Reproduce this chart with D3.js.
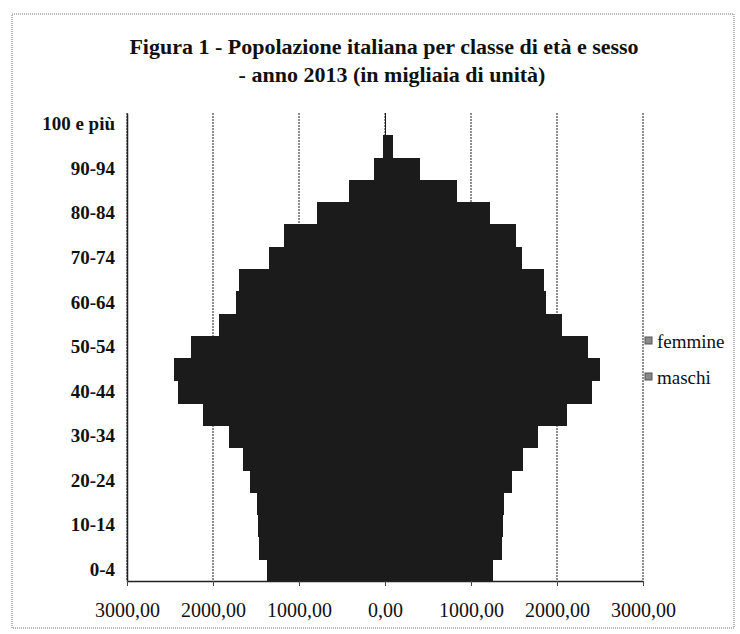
<!DOCTYPE html>
<html>
<head>
<meta charset="utf-8">
<script src="https://cdn.jsdelivr.net/npm/d3@7"></script>
<style>
  body { margin: 0; background: #fff; }
  text { font-family: "Liberation Serif", "DejaVu Serif", serif; fill: #111; }
</style>
</head>
<body>
<div class="canvas"></div>
<script>
// classi di eta (dal basso verso l'alto)
const ages = ['0-4', '5-9', '10-14', '15-19', '20-24', '25-29', '30-34', '35-39', '40-44', '45-49',
    '50-54', '55-59', '60-64', '65-69', '70-74', '75-79', '80-84', '85-89', '90-94', '95-99', '100 e più'];

// migliaia di unita
const maschi = [1372, 1470, 1480, 1490, 1570, 1651, 1814, 2116, 2407, 2453,
    2260, 1930, 1733, 1698, 1349, 1174, 791, 419, 128, 25, 3];
const femmine = [1256, 1362, 1372, 1380, 1477, 1605, 1779, 2116, 2407, 2500,
    2360, 2058, 1870, 1849, 1593, 1523, 1221, 837, 407, 90, 15];

const xTicks = [-3000, -2000, -1000, 0, 1000, 2000, 3000];
const legendLabels = ['femmine', 'maschi'];

const dims = { width: 740, height: 634 };
const plot = { left: 127, right: 643, top: 113, bottom: 581 };

const svg = d3.select('.canvas')
    .append('svg')
    .attr('width', dims.width)
    .attr('height', dims.height);

// cornice tratteggiata
svg.append('rect')
    .attr('x', 12).attr('y', 14)
    .attr('width', 722).attr('height', 614)
    .attr('fill', 'none')
    .attr('stroke', '#777')
    .attr('stroke-width', 1)
    .attr('stroke-dasharray', '1,1');

const x = d3.scaleLinear().domain([-3000, 3000]).range([plot.left, plot.right]);
const y = d3.scaleBand().domain(ages).range([plot.bottom, plot.top]).padding(0);

// griglia verticale
svg.append('g')
    .selectAll('line')
    .data(xTicks)
    .enter()
    .append('line')
        .attr('x1', d => x(d)).attr('x2', d => x(d))
        .attr('y1', plot.top).attr('y2', plot.bottom)
        .attr('stroke', '#444')
        .attr('stroke-width', 1.2)
        .attr('stroke-dasharray', '2,1');

const rows = ages.map((a, i) => ({ age: a, m: maschi[i], f: femmine[i] }));

// maschi a sinistra
svg.append('g')
    .attr('shape-rendering', 'crispEdges')
    .selectAll('rect')
    .data(rows)
    .enter()
    .append('rect')
        .attr('x', d => x(-d.m))
        .attr('width', d => x(0) - x(-d.m))
        .attr('y', d => y(d.age))
        .attr('height', y.bandwidth() + 1)
        .attr('fill', '#1b1b1b');

// femmine a destra
svg.append('g')
    .attr('shape-rendering', 'crispEdges')
    .selectAll('rect')
    .data(rows)
    .enter()
    .append('rect')
        .attr('x', x(0))
        .attr('width', d => x(d.f) - x(0))
        .attr('y', d => y(d.age))
        .attr('height', y.bandwidth() + 1)
        .attr('fill', '#1b1b1b');

// asse y
const yAxis = d3.axisLeft(y)
    .tickValues(ages.filter((a, i) => i % 2 === 0))
    .tickSize(0)
    .tickPadding(12);

const gy = svg.append('g')
    .attr('transform', `translate(${plot.left}, 0)`)
    .call(yAxis);
gy.select('.domain').attr('stroke', '#222').attr('stroke-width', 1.5);
gy.selectAll('text')
    .attr('font-size', 19)
    .attr('font-weight', 'bold')
    .style('font-family', '"Liberation Serif", serif');

// asse x
const xAxis = d3.axisBottom(x)
    .tickValues(xTicks)
    .tickSizeInner(5)
    .tickSizeOuter(0)
    .tickFormat(d => Math.abs(d).toFixed(2).replace('.', ','));

const gx = svg.append('g')
    .attr('transform', `translate(0, ${plot.bottom})`)
    .call(xAxis);
gx.select('.domain').attr('stroke', '#222').attr('stroke-width', 1.5);
gx.selectAll('line').attr('stroke', '#444');
gx.selectAll('text')
    .attr('y', 22)
    .attr('font-size', 20)
    .style('font-family', '"Liberation Serif", serif');

// titolo
const title = svg.append('text')
    .attr('text-anchor', 'middle')
    .attr('font-size', 22)
    .attr('font-weight', 'bold');
title.append('tspan').attr('x', 384).attr('y', 54)
    .text('Figura 1 - Popolazione italiana per classe di età e sesso');
title.append('tspan').attr('x', 392).attr('y', 82)
    .text('- anno 2013 (in migliaia di unità)');

// legenda
const legend = svg.append('g')
    .selectAll('g')
    .data(legendLabels)
    .enter()
    .append('g')
        .attr('transform', (d, i) => `translate(645, ${341 + i * 36})`);

legend.append('rect')
    .attr('x', 0).attr('y', -4)
    .attr('width', 7).attr('height', 7)
    .attr('fill', '#888')
    .attr('stroke', '#555');

legend.append('text')
    .attr('x', 12)
    .attr('dy', '0.35em')
    .attr('font-size', 19)
    .text(d => d);
</script>
</body>
</html>
